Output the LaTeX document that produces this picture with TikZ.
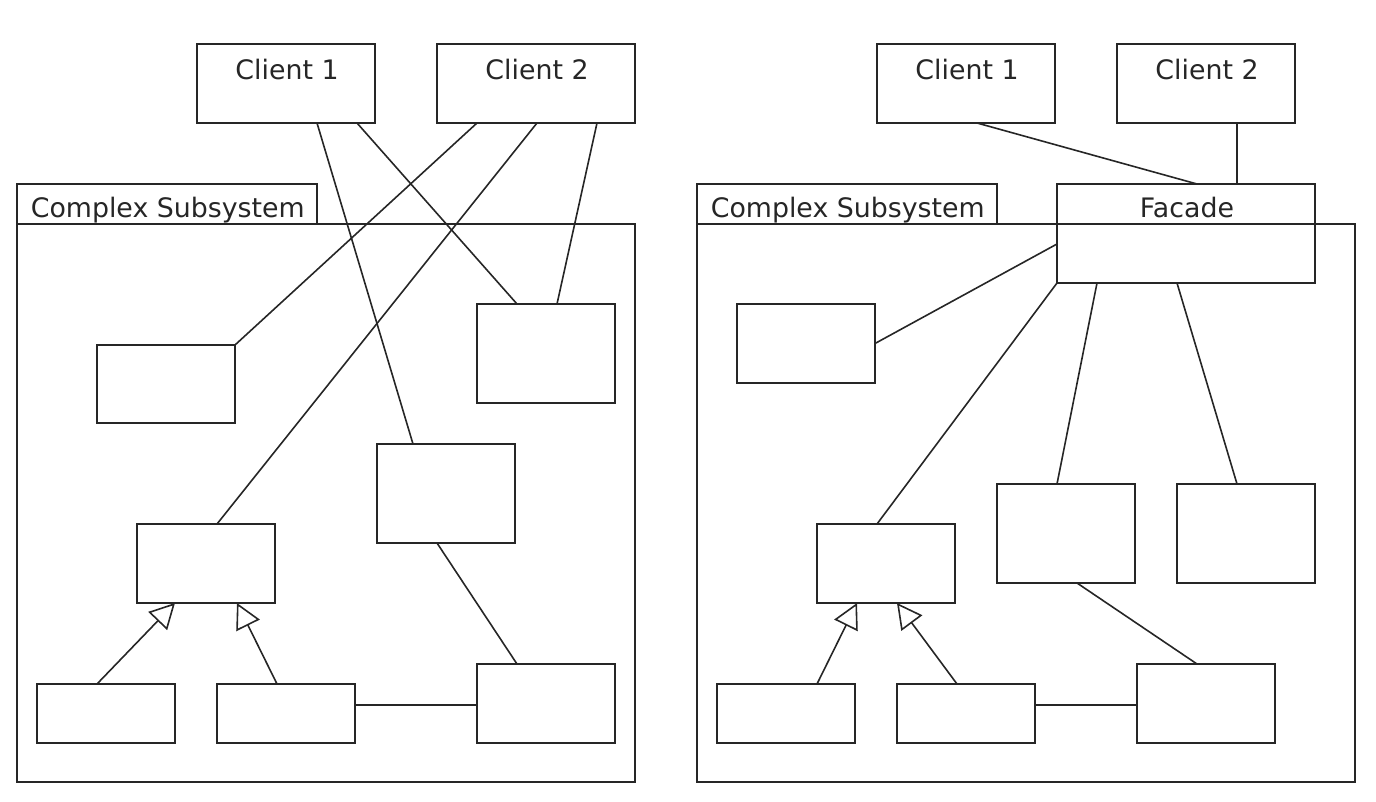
\documentclass[tikz,border=0pt]{standalone}
\usepackage{fontspec}
\setmainfont{DejaVu Sans}
\usetikzlibrary{fit,calc,arrows.meta}
\begin{document}
\begin{tikzpicture}[x=0.5pt,y=-0.5pt,
  line width=0.8pt, draw=black!85,
  box/.style={draw=black!85, line width=0.8pt, inner sep=0pt, outer sep=0pt},
  lbl/.style={inner sep=0pt, anchor=base, text=black!85, font=\fontsize{13.4pt}{15pt}\selectfont},
  conn/.style={draw=black!85, line width=0.8pt},
  inh/.style={conn, -{Triangle[open, length=12.5pt, width=13pt, line width=0.8pt]}}]
\useasboundingbox (0,0) rectangle (1376,802);
% ---------------- left diagram ----------------
\node[box, fit={(17,224)(635,782)}] (lsys) {};
\node[box, fit={(17,184)(317,224)}] (ltab) {};
\node[lbl, anchor=base west] (ltabt) at (30,218) {Complex Subsystem};
\node[box, fit={(197,44)(375,123)}] (lc1) {};
\node[lbl] (lc1t) at (287,80) {Client 1};
\node[box, fit={(437,44)(635,123)}] (lc2) {};
\node[lbl] (lc2t) at (537,80) {Client 2};
\node[box, fit={(97,345)(235,423)}] (lA) {};
\node[box, fit={(477,304)(615,403)}] (lB) {};
\node[box, fit={(377,444)(515,543)}] (lC) {};
\node[box, fit={(137,524)(275,603)}] (lD) {};
\node[box, fit={(37,684)(175,743)}] (lE) {};
\node[box, fit={(217,684)(355,743)}] (lF) {};
\node[box, fit={(477,664)(615,743)}] (lG) {};
\draw[conn] ($(lc1.south west)+(120,0)$) -- ($(lC.north west)+(36,0)$);
\draw[conn] ($(lc1.south west)+(160,0)$) -- ($(lB.north west)+(40,0)$);
\draw[conn] ($(lc2.south west)+(40,0)$) -- (lA.north east);
\draw[conn] ($(lc2.south west)+(100,0)$) -- ($(lD.north west)+(80,0)$);
\draw[conn] ($(lc2.south west)+(160,0)$) -- ($(lB.north west)+(80,0)$);
\draw[conn] ($(lC.south west)+(60,0)$) -- ($(lG.north west)+(40,0)$);
\draw[conn] ($(lG.north west -| lF.east)+(0,41)$) -- ($(lG.north west)+(0,41)$);
\draw[inh] ($(lE.north west)+(60,0)$) -- ($(lD.south west)+(38,0)$);
\draw[inh] ($(lF.north west)+(60,0)$) -- ($(lD.south west)+(100,0)$);
% ---------------- right diagram ----------------
\node[box, fit={(697,224)(1355,782)}] (rsys) {};
\node[box, fit={(697,184)(997,224)}] (rtab) {};
\node[lbl, anchor=base west] (rtabt) at (710,218) {Complex Subsystem};
\node[box, fit={(877,44)(1055,123)}] (rc1) {};
\node[lbl] (rc1t) at (967,80) {Client 1};
\node[box, fit={(1117,44)(1295,123)}] (rc2) {};
\node[lbl] (rc2t) at (1207,80) {Client 2};
\node[box, fit={(1057,184)(1315,283)}] (rF) {};
\node[lbl] (rFt) at (1187,218) {Facade};
\node[box, fit={(737,304)(875,383)}] (rA) {};
\node[box, fit={(817,524)(955,603)}] (rD) {};
\node[box, fit={(997,484)(1135,583)}] (rH) {};
\node[box, fit={(1177,484)(1315,583)}] (rI) {};
\node[box, fit={(717,684)(855,743)}] (rE) {};
\node[box, fit={(897,684)(1035,743)}] (rFF) {};
\node[box, fit={(1137,664)(1275,743)}] (rG) {};
\draw[conn] ($(rc1.south west)+(100,0)$) -- ($(rF.north west)+(140,0)$);
\draw[conn] ($(rc2.south west)+(120,0)$) -- ($(rF.north west)+(180,0)$);
\draw[conn] ($(rF.north west)+(0,60)$) -- (rA.east);
\draw[conn] (rF.south west) -- ($(rD.north west)+(60,0)$);
\draw[conn] ($(rF.south west)+(40,0)$) -- ($(rH.north west)+(60,0)$);
\draw[conn] ($(rF.south west)+(120,0)$) -- ($(rI.north west)+(60,0)$);
\draw[conn] ($(rH.south west)+(80,0)$) -- ($(rG.north west)+(60,0)$);
\draw[conn] ($(rG.north west -| rFF.east)+(0,41)$) -- ($(rG.north west)+(0,41)$);
\draw[inh] ($(rE.north west)+(100,0)$) -- ($(rD.south west)+(40,0)$);
\draw[inh] ($(rFF.north west)+(60,0)$) -- ($(rD.south west)+(80,0)$);
\end{tikzpicture}
\end{document}
